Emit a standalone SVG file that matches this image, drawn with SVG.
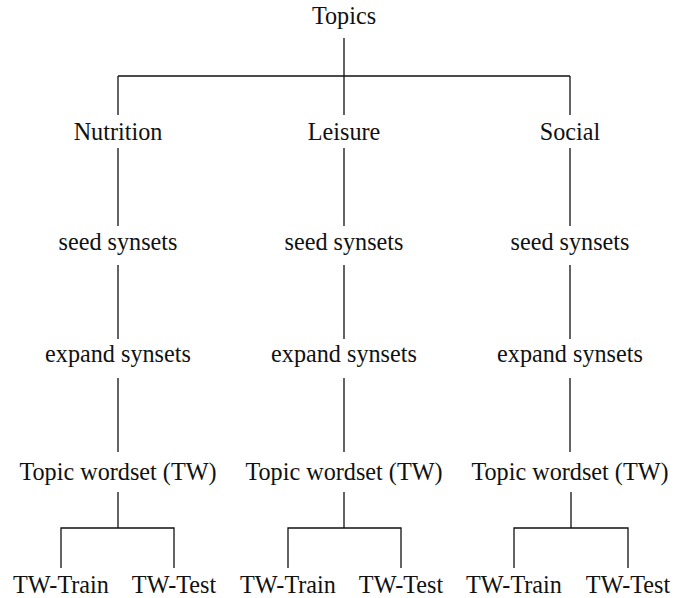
<svg xmlns="http://www.w3.org/2000/svg" width="686" height="598" viewBox="0 0 686 598">
<style>
.t text{font-family:'Liberation Serif','Times New Roman',Times,serif;font-size:24.2px;fill:#111;text-anchor:middle}
.c path{stroke:#111;stroke-width:1.3;fill:none}
</style>
<rect width="686" height="598" fill="#fff"/>
<g class="c" id="connectors">
<path d="M344 38V115M118 76H570M118 76V115M570 76V115"/>
<path d="M118 148V226M344 148V226M570 148V226"/>
<path d="M118 265V339M344 265V339M570 265V339"/>
<path d="M118 378V452M344 378V452M570 378V452"/>
<path d="M118 492V528M61 568V528H174V568"/>
<path d="M344 492V528M288 568V528H401V568"/>
<path d="M571 492V528M514 568V528H628V568"/>
</g>
<g class="t">
<g id="topics"><text x="344" y="24">Topics</text></g>
<g id="nutrition"><text x="118" y="140">Nutrition</text></g>
<g id="leisure"><text x="344" y="140">Leisure</text></g>
<g id="social"><text x="570" y="140">Social</text></g>
<g id="seed1"><text x="118" y="250">seed synsets</text></g>
<g id="seed2"><text x="344" y="250">seed synsets</text></g>
<g id="seed3"><text x="570" y="250">seed synsets</text></g>
<g id="expand1"><text x="118" y="362">expand synsets</text></g>
<g id="expand2"><text x="344" y="362">expand synsets</text></g>
<g id="expand3"><text x="570" y="362">expand synsets</text></g>
<g id="tw1"><text x="118" y="480">Topic wordset (TW)</text></g>
<g id="tw2"><text x="344" y="480">Topic wordset (TW)</text></g>
<g id="tw3"><text x="570" y="480">Topic wordset (TW)</text></g>
<g id="train1"><text x="61" y="593">TW-Train</text></g>
<g id="test1"><text x="174" y="593">TW-Test</text></g>
<g id="train2"><text x="288" y="593">TW-Train</text></g>
<g id="test2"><text x="401" y="593">TW-Test</text></g>
<g id="train3"><text x="514" y="593">TW-Train</text></g>
<g id="test3"><text x="628" y="593">TW-Test</text></g>
</g>
</svg>
